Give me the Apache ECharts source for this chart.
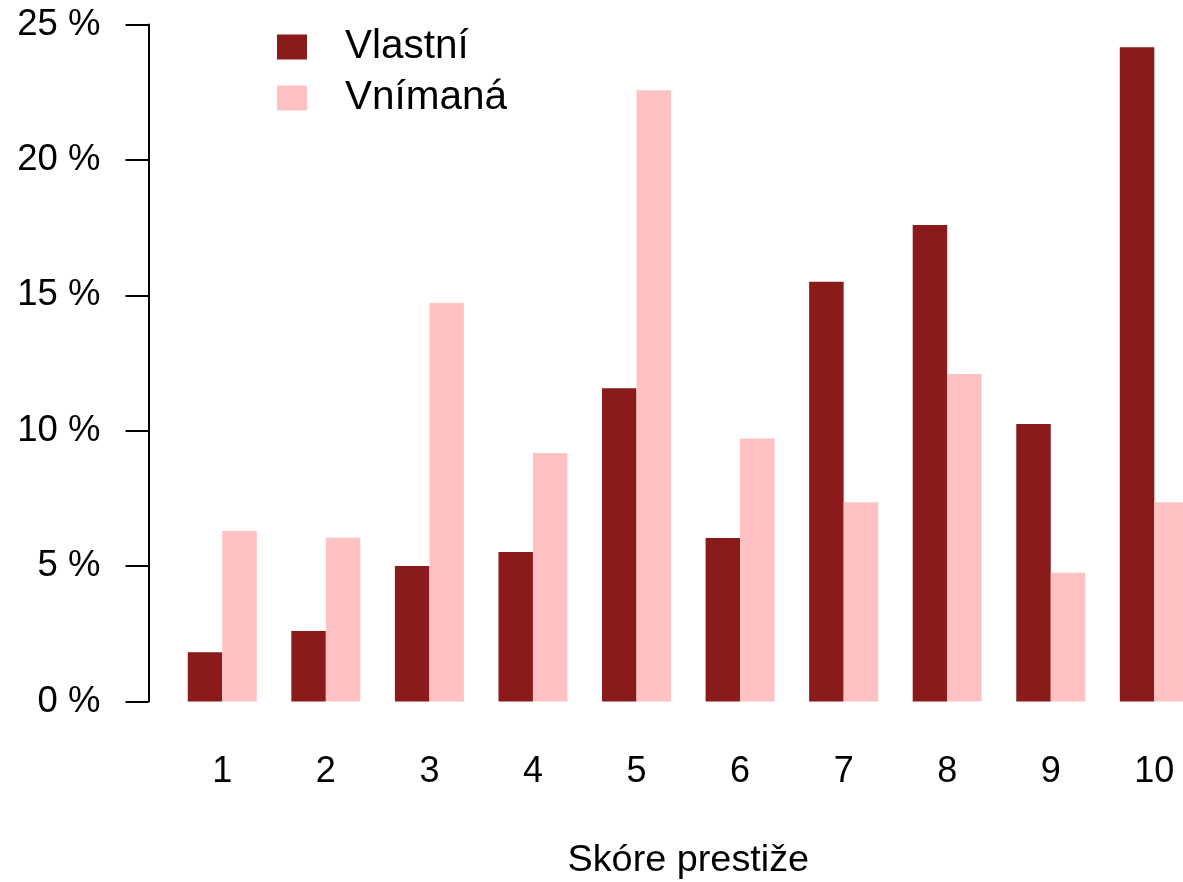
<!DOCTYPE html>
<html>
<head>
<meta charset="utf-8">
<script src="https://cdn.jsdelivr.net/npm/echarts@6/dist/echarts.min.js"></script>
<style>
  html, body { margin: 0; padding: 0; background: #fff; }
  #chart { width: 1183px; height: 882px; }
</style>
</head>
<body>
<div id="chart"></div>
<script>
// data (percent)
const categories = ['1', '2', '3', '4', '5', '6', '7', '8', '9', '10']
const vlastni = [1.82, 2.60, 5.00, 5.52, 11.57, 6.04, 15.50, 17.60, 10.25, 24.16]
const vnimana = [6.30, 6.05, 14.72, 9.18, 22.57, 9.71, 7.36, 12.09, 4.75, 7.36]
const yTicks = [0, 5, 10, 15, 20, 25]

const font = 'Liberation Sans, Arial, sans-serif'
const chart = echarts.init(document.getElementById('chart'))

chart.setOption({
  animation: false,
  color: ['#8B1A1A', '#FFC1C1'],
  textStyle: { fontFamily: font },
  // plot runs past the right edge, like the original
  grid: {
    left: 170.5,
    width: 1035.6,
    top: 24.5,
    bottom: 180.5,
    containLabel: false,
    outerBoundsMode: 'none',
  },
  legend: {
    orient: 'vertical',
    left: 277,
    top: 26.5,
    padding: 0,
    icon: 'rect',
    itemWidth: 30,
    itemHeight: 25,
    itemGap: 10,
    textStyle: {
      fontFamily: font,
      fontSize: 40.5,
      lineHeight: 40,
      color: '#000',
      padding: [0, 0, 0, 33],
    },
    data: ['Vlastní', 'Vnímaná'],
  },
  xAxis: {
    type: 'category',
    data: categories,
    name: 'Skóre prestiže',
    nameLocation: 'middle',
    nameGap: 140,
    nameTextStyle: { fontFamily: font, fontSize: 37.8, color: '#000', lineHeight: 38 },
    axisLine: { show: false },
    axisTick: { show: false },
    axisLabel: { fontFamily: font, fontSize: 36, color: '#000', margin: 53, lineHeight: 36 },
    splitLine: { show: false },
  },
  yAxis: {
    type: 'value',
    min: yTicks[0],
    max: yTicks[yTicks.length - 1],
    interval: 5,
    offset: 22,
    axisLine: { show: true, lineStyle: { color: '#000', width: 2 } },
    axisTick: { show: true, length: 23, lineStyle: { color: '#000', width: 2 } },
    axisLabel: {
      fontFamily: font,
      fontSize: 36.5,
      color: '#000',
      margin: 48,
      formatter: '{value} %',
    },
    splitLine: { show: false },
  },
  series: [
    {
      name: 'Vlastní',
      type: 'bar',
      data: vlastni,
      barWidth: 34.5,
      barGap: '0%',
    },
    {
      name: 'Vnímaná',
      type: 'bar',
      data: vnimana,
      barWidth: 34.5,
      barGap: '0%',
    },
  ],
})
</script>
</body>
</html>
